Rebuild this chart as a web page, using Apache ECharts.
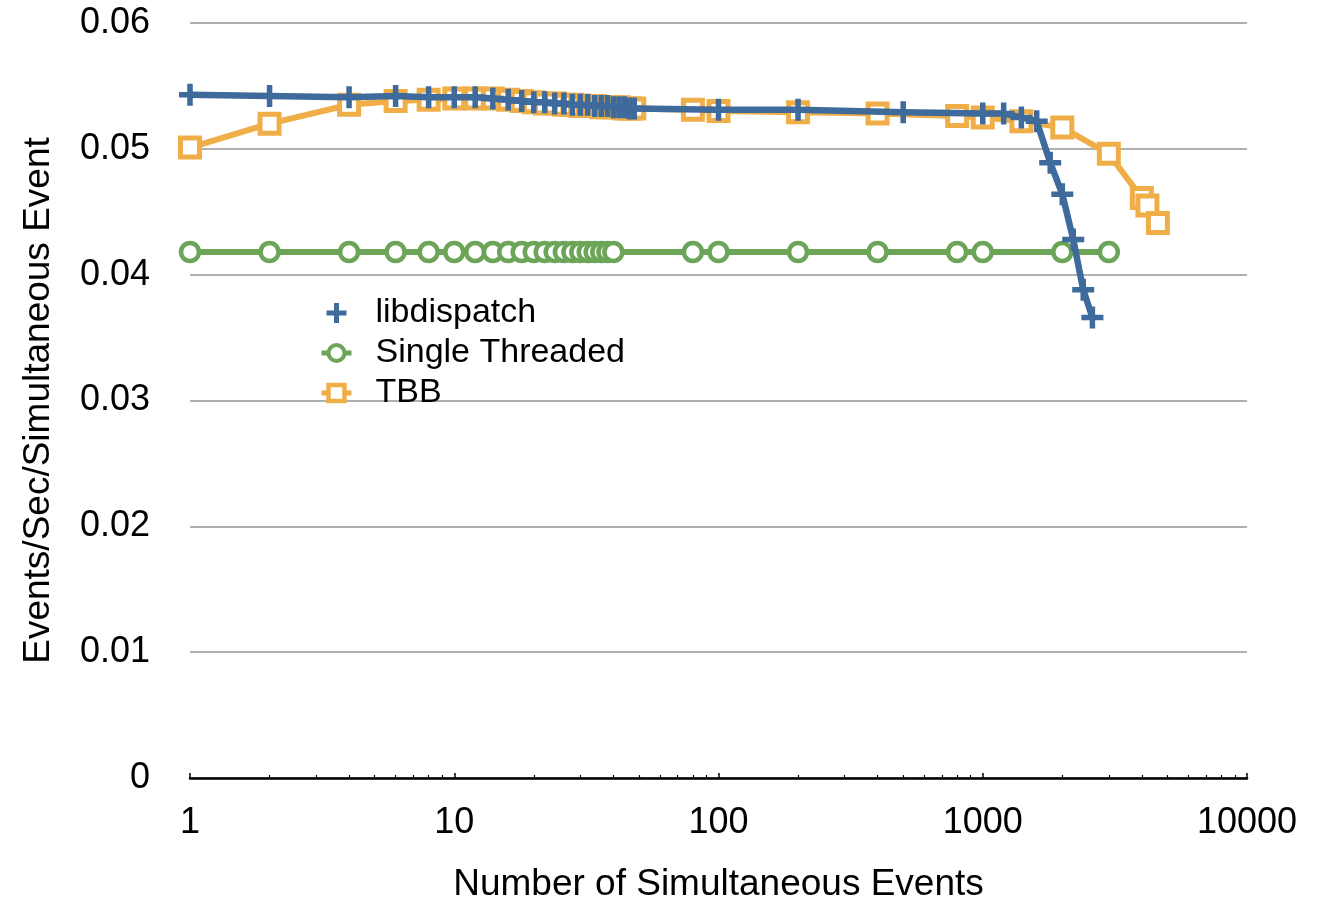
<!DOCTYPE html>
<html>
<head>
<meta charset="utf-8">
<script src="https://cdn.jsdelivr.net/npm/echarts@6/dist/echarts.min.js"></script>
<style>
html,body{margin:0;padding:0;background:#fff;overflow:hidden;}
#chart{width:1329px;height:902px;}
</style>
</head>
<body>
<div id="chart"></div>
<script>
// ---- data ----
const libdispatchX = [1,2,4,6,8,10,12,14,16,18,20,22,24,26,28,30,32,34,36,38,40,42,44,46,48,100,200,500,1000,1200,1400,1600,1800,2000,2200,2400,2600];
const libdispatchY = [0.0543,0.0542,0.0541,0.0542,0.0541,0.0541,0.0541,0.0540,0.0539,0.0538,0.0537,0.0537,0.0536,0.0536,0.0535,0.0535,0.0535,0.0534,0.0534,0.0534,0.0533,0.0533,0.0533,0.0532,0.0532,0.0531,0.0531,0.0529,0.0528,0.0528,0.0525,0.0522,0.0489,0.0464,0.0428,0.0388,0.0366];

const singleX = [1,2,4,6,8,10,12,14,16,18,20,22,24,26,28,30,32,34,36,38,40,80,100,200,400,800,1000,2000,3000];
const singleY = [0.0418,0.0418,0.0418,0.0418,0.0418,0.0418,0.0418,0.0418,0.0418,0.0418,0.0418,0.0418,0.0418,0.0418,0.0418,0.0418,0.0418,0.0418,0.0418,0.0418,0.0418,0.0418,0.0418,0.0418,0.0418,0.0418,0.0418,0.0418,0.0418];

const tbbX = [1,2,4,6,8,10,12,14,16,18,20,22,24,26,28,30,32,34,36,38,40,42,44,46,48,80,100,200,400,800,1000,1400,2000,3000,4000,4200,4600];
const tbbY = [0.0501,0.0520,0.0535,0.0538,0.0539,0.0540,0.0540,0.0540,0.0539,0.0538,0.0537,0.0536,0.0536,0.0535,0.0535,0.0534,0.0534,0.0534,0.0533,0.0533,0.0533,0.0533,0.0532,0.0532,0.0532,0.0531,0.0530,0.0529,0.0528,0.0526,0.0525,0.0522,0.0517,0.0496,0.0461,0.0455,0.0441];

const xMajorTicks = [1,10,100,1000,10000];
const xMinorTicks = [2,3,4,5,6,7,8,9,20,30,40,50,60,70,80,90,200,300,400,500,600,700,800,900,2000,3000,4000,5000,6000,7000,8000,9000];
const yTicks = [0,0.01,0.02,0.03,0.04,0.05,0.06];

const seriesNames = ['libdispatch','Single Threaded','TBB'];
const colors = {blue:'#3e6a9c', green:'#6ca558', orange:'#f0ae48'};

function pairs(xs, ys){ return xs.map((x,i)=>[x, ys[i]]); }

const crossPath = 'path://M7.5,0 H12.5 V7.5 H20 V12.5 H12.5 V20 H7.5 V12.5 H0 V7.5 H7.5 Z';
const FONT = 'Liberation Sans';
const TXT = '#000';

const chart = echarts.init(document.getElementById('chart'), null, {renderer:'canvas'});
chart.setOption({
  animation: false,
  backgroundColor: '#fff',
  grid: {left:190, right:82, top:23, bottom:124, containLabel:false, outerBoundsMode:'none'},
  legend: {
    orient: 'vertical',
    left: 314, top: 291,
    itemWidth: 30, itemHeight: 20, itemGap: 6,
    lineStyle: {width: 5},
    data: [
      {name: 'libdispatch', icon: crossPath, itemStyle: {color: colors.blue}},
      {name: 'Single Threaded', itemStyle: {color:'#fff', borderColor: colors.green, borderWidth: 4}, lineStyle: {width: 5, color: colors.green}},
      {name: 'TBB', itemStyle: {color:'#fff', borderColor: colors.orange, borderWidth: 4.5}, lineStyle: {width: 5, color: colors.orange}}
    ],
    textStyle: {fontFamily: FONT, fontSize: 34, color: TXT, padding:[0,0,0,19]}
  },
  xAxis: [{
    type: 'log', logBase: 10, min: 1, max: 10000,
    name: 'Number of Simultaneous Events',
    nameLocation: 'middle', nameGap: 88,
    nameTextStyle: {fontFamily: FONT, fontSize: 37, color: TXT},
    axisLine: {show:true, lineStyle:{color:'#000', width:2.5}},
    axisTick: {show:true, inside:true, length:5, lineStyle:{color:'#000', width:1.5}, customValues: xMajorTicks},
    axisLabel: {fontFamily: FONT, fontSize: 36, color: TXT, margin: 27, customValues: xMajorTicks,
      formatter: v => String(Math.round(v))},
    splitLine: {show:false},
    minorTick: {show:false}
  },{
    type: 'log', logBase: 10, min: 1, max: 10000, position: 'bottom',
    axisLine: {show:false},
    axisTick: {show:true, inside:true, length:3, lineStyle:{color:'#000', width:1.2}, customValues: xMinorTicks},
    axisLabel: {show:false},
    splitLine: {show:false}
  }],
  yAxis: {
    type: 'value', min: 0, max: 0.06, interval: 0.01,
    name: 'Events/Sec/Simultaneous Event',
    nameLocation: 'middle', nameGap: 133,
    nameTextStyle: {fontFamily: FONT, fontSize: 37, color: TXT},
    axisLine: {show:false}, axisTick: {show:false},
    axisLabel: {fontFamily: FONT, fontSize: 36, color: TXT, margin: 40,
      formatter: v => (Math.round(v*100)/100).toString()},
    splitLine: {show:true, lineStyle:{color:'#b0b0b0', width:2}}
  },
  series: [
    {
      name: 'libdispatch', type: 'line', z: 5,
      data: pairs(libdispatchX, libdispatchY),
      symbol: crossPath, symbolSize: 22, showAllSymbol: true,
      lineStyle: {color: colors.blue, width: 6.5},
      itemStyle: {color: colors.blue, borderWidth: 0}
    },
    {
      name: 'Single Threaded', type: 'line', z: 3,
      data: pairs(singleX, singleY),
      symbol: 'circle', symbolSize: 18, showAllSymbol: true,
      lineStyle: {color: colors.green, width: 6},
      itemStyle: {color: '#fff', borderColor: colors.green, borderWidth: 4.5}
    },
    {
      name: 'TBB', type: 'line', z: 2,
      data: pairs(tbbX, tbbY),
      symbol: 'rect', symbolSize: 19, showAllSymbol: true,
      lineStyle: {color: colors.orange, width: 6},
      itemStyle: {color: '#fff', borderColor: colors.orange, borderWidth: 5}
    }
  ]
});
</script>
</body>
</html>
